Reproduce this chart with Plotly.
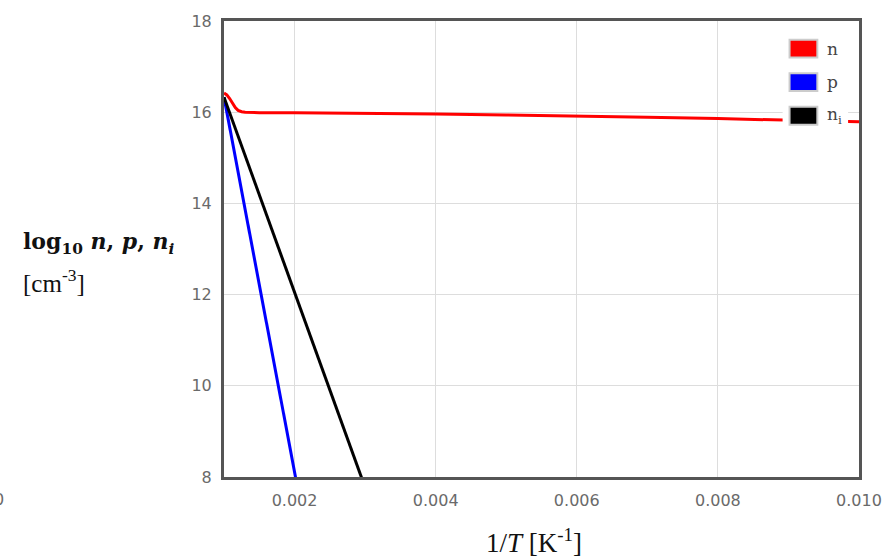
import plotly.graph_objects as go

# ---- data ----
n_x = [0.0010, 0.00104, 0.00108, 0.00112, 0.00116, 0.0012, 0.00125, 0.0013, 0.0015,
       0.002, 0.003, 0.004, 0.005, 0.006, 0.007, 0.008, 0.009, 0.010]
n_y = [16.42, 16.38, 16.30, 16.20, 16.10, 16.04, 16.01, 16.00, 15.99,
       15.99, 15.98, 15.96, 15.94, 15.92, 15.89, 15.86, 15.83, 15.79]

p_x = [0.0010, 0.0015, 0.0020, 0.0025]
p_y = [16.33, 12.22, 8.11, 4.00]

ni_x = [0.0010, 0.0020, 0.0030]
ni_y = [16.33, 12.05, 7.77]

series_names = ["n", "p", "n<sub>i</sub>"]
series_colors = ["#ff0000", "#0000ff", "#000000"]

x_ticks = [0.002, 0.004, 0.006, 0.008, 0.010]
x_tick_text = ["0.002", "0.004", "0.006", "0.008", "0.010"]
y_ticks = [8, 10, 12, 14, 16, 18]

# ---- layout geometry (pixels) ----
W, H = 894, 559
L, R, T, B = 224, 30, 15, 82
PW, PH = W - L - R, H - T - B


def px(x):
    return (x - L) / PW


def py(y):
    return (H - B - y) / PH


fig = go.Figure()
for xs, ys, c in [(n_x, n_y, series_colors[0]), (p_x, p_y, series_colors[1]), (ni_x, ni_y, series_colors[2])]:
    fig.add_trace(go.Scatter(x=xs, y=ys, mode="lines", line=dict(color=c, width=3),
                             showlegend=False, hoverinfo="skip"))

tick_font = dict(family="DejaVu Sans", size=16, color="#6a6a6a")

fig.update_xaxes(range=[0.001, 0.010], tickvals=x_ticks, ticktext=x_tick_text,
                 showgrid=True, gridcolor="#dddddd", gridwidth=1, zeroline=False,
                 showline=True, mirror=True, linecolor="#555", linewidth=3,
                 ticks="", ticklabelstandoff=7, tickfont=tick_font)
fig.update_yaxes(range=[8, 18], tickvals=y_ticks,
                 showgrid=True, gridcolor="#dddddd", gridwidth=1, zeroline=False,
                 showline=True, mirror=True, linecolor="#555", linewidth=3,
                 ticks="", ticklabelstandoff=6, tickfont=tick_font)

shapes = []
annotations = []

# manual legend
shapes.append(dict(type="rect", xref="paper", yref="paper", layer="above",
                   x0=px(787), x1=px(853), y0=py(128), y1=py(26),
                   fillcolor="white", line=dict(width=0)))
for i, (name, col) in enumerate(zip(series_names, series_colors)):
    top = 33 + 34 * i
    shapes.append(dict(type="rect", xref="paper", yref="paper", layer="above",
                       x0=px(794), x1=px(822), y0=py(top + 19), y1=py(top + 1),
                       fillcolor=col, line=dict(color="#cccccc", width=2)))
    annotations.append(dict(text=name, xref="paper", yref="paper",
                            x=px(830), y=py(top + 10), xanchor="left", yanchor="middle",
                            showarrow=False,
                            font=dict(family="DejaVu Serif", size=17, color="#444")))

# axis titles
annotations.append(dict(text="<b>log<sub>10</sub> <i>n</i>, <i>p</i>, <i>n<sub>i</sub></i></b>",
                        xref="paper", yref="paper", x=px(19), y=py(240),
                        xanchor="left", yanchor="middle", showarrow=False,
                        font=dict(family="DejaVu Serif", size=22, color="#111")))
annotations.append(dict(text="[cm<sup>-3</sup>]",
                        xref="paper", yref="paper", x=px(19), y=py(278),
                        xanchor="left", yanchor="middle", showarrow=False,
                        font=dict(family="Liberation Serif", size=25, color="#111")))
annotations.append(dict(text="1/<i>T</i> [K<sup>-1</sup>]",
                        xref="paper", yref="paper", x=px(536), y=py(542),
                        xanchor="center", yanchor="middle", showarrow=False,
                        font=dict(family="Liberation Serif", size=27, color="#111")))
# stray label at bottom-left
annotations.append(dict(text="0", xref="paper", yref="paper", x=px(-3), y=py(500),
                        xanchor="center", yanchor="middle", showarrow=False,
                        font=tick_font))

fig.update_layout(width=W, height=H, margin=dict(l=L, r=R, t=T, b=B),
                  plot_bgcolor="white", paper_bgcolor="white",
                  shapes=shapes, annotations=annotations, showlegend=False)

fig.write_html("out.html", config={"displayModeBar": False},
               post_script="document.body.style.margin='0';document.body.style.overflow='hidden';")
